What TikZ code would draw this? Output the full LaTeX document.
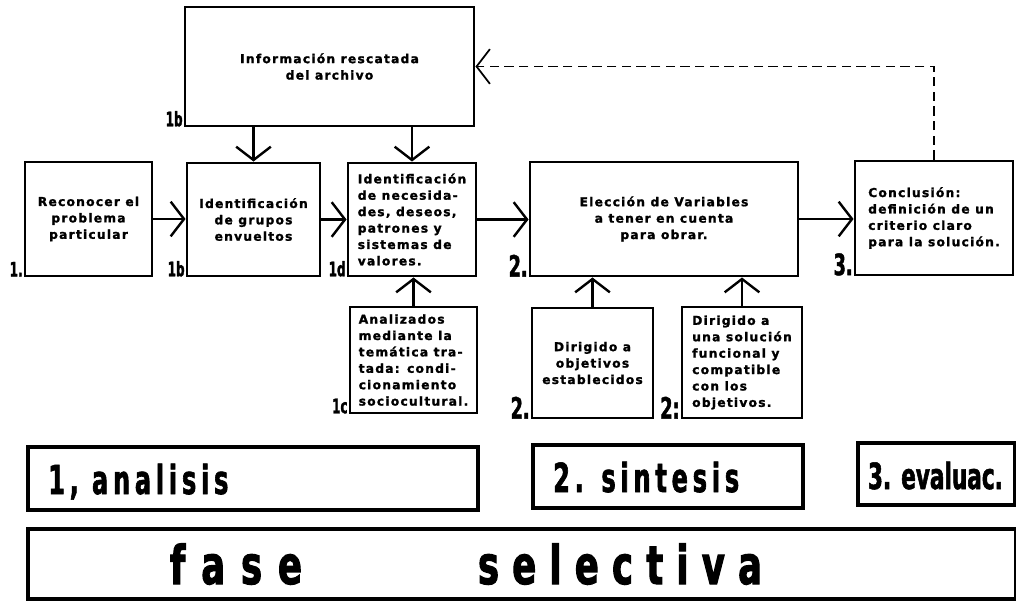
\documentclass[tikz,border=0pt]{standalone}
\usepackage{fontspec}
\setmainfont{DejaVu Sans}
\newfontfamily\boxfont[LetterSpace=10, FakeBold=1.5]{DejaVu Sans}
\newfontfamily\condfont[FakeStretch=0.6, FakeBold=1.5]{DejaVu Sans}
\newfontfamily\phasefont[FakeStretch=0.6, FakeBold=1.5, LetterSpace=12]{DejaVu Sans}
\newfontfamily\hugefont[FakeStretch=0.66, FakeBold=2]{DejaVu Sans}
\usetikzlibrary{arrows.meta}
\begin{document}
\begin{tikzpicture}[x=0.75pt,y=-0.75pt,
  box/.style={draw, line width=2.2pt, inner sep=0pt,
    font=\boxfont\bfseries\fontsize{9.2}{12.3}\selectfont},
  bigbox/.style={draw, line width=3pt, inner sep=0pt},
  conn/.style={line width=1.8pt, -{Straight Barb[length=10pt,width=26pt]}},
  lab/.style={font=\condfont\bfseries\fontsize{22}{22}\selectfont, inner sep=0.5pt},
  slab/.style={font=\condfont\bfseries\fontsize{15}{15}\selectfont, inner sep=0.5pt},
  phase/.style={font=\phasefont\bfseries\fontsize{30}{30}\selectfont, inner sep=0pt},
  huge/.style={font=\hugefont\bfseries\fontsize{40}{40}\selectfont, inner sep=0pt}]
\useasboundingbox (0,0) rectangle (1016,600);
% boxes
\node[box, minimum width={289*0.75pt}, minimum height={119*0.75pt}, align=center] (info) at (329.5,66.5) {Información rescatada\\del archivo};
\node[box, minimum width={127*0.75pt}, minimum height={114*0.75pt}, align=center] (reco) at (88.5,219) {Reconocer el\\problema\\particular};
\node[box, minimum width={133*0.75pt}, minimum height={113*0.75pt}, align=center] (grupos) at (253.5,219.5) {Identificación\\de grupos\\envueltos};
\node[box, minimum width={128*0.75pt}, minimum height={113*0.75pt}, align=left] (neces) at (412,219.5) {Identificación\\de necesida-\\des, deseos,\\patrones y\\sistemas de\\valores.};
\node[box, minimum width={268*0.75pt}, minimum height={114*0.75pt}, align=center] (elec) at (664,219) {Elección de Variables\\a tener en cuenta\\para obrar.};
\node[box, minimum width={158*0.75pt}, minimum height={114*0.75pt}, align=left] (concl) at (934,218) {Conclusión:\\definición de un\\criterio claro\\para la solución.};
\node[box, minimum width={127*0.75pt}, minimum height={106*0.75pt}, align=left] (anal) at (413.5,360) {Analizados\\mediante la\\temática tra-\\tada: condi-\\cionamiento\\sociocultural.};
\node[box, minimum width={121*0.75pt}, minimum height={110*0.75pt}, align=center] (dir1) at (592.5,363) {Dirigido a\\objetivos\\establecidos};
\node[box, minimum width={120*0.75pt}, minimum height={111*0.75pt}, align=left] (dir2) at (742,362.5) {Dirigido a\\una solución\\funcional y\\compatible\\con los\\objetivos.};
% phase boxes
\node[bigbox, minimum width={450*0.75pt}, minimum height={63*0.75pt}] (fa) at (253,478.5) {};
\node[bigbox, minimum width={270*0.75pt}, minimum height={63*0.75pt}] (fs) at (668,476.5) {};
\node[bigbox, minimum width={157*0.75pt}, minimum height={62*0.75pt}] (fe) at (936.5,474) {};
\node[bigbox, minimum width={988*0.75pt}, minimum height={70*0.75pt}] (fsel) at (522,563.5) {};
\node[phase, anchor=base west] (ta) at (48,494) {1, analisis};
\node[phase, anchor=base west] (ts) at (553,492) {2. sintesis};
\node[lab, anchor=base west, font=\condfont\bfseries\fontsize{27}{27}\selectfont] (te) at (867,489) {3. evaluac.};
\node[huge, anchor=base] (tf) at (236,584) {f\hspace{12pt}a\hspace{12pt}s\hspace{12pt}e};
\node[huge, anchor=base] (tsv) at (620,584) {s\hspace{10pt}e\hspace{10pt}l\hspace{10pt}e\hspace{10pt}c\hspace{10pt}t\hspace{10pt}i\hspace{10pt}v\hspace{10pt}a};
% labels
\node[slab, anchor=south east] (l1) at (reco.south west) {1.};
\node[slab, anchor=south east] (l2) at (grupos.south west) {1b};
\node[slab, anchor=south east] (l3) at (neces.south west) {1d};
\node[slab, anchor=south east] (l4) at (info.south west) {1b};
\node[slab, anchor=south east] (l5) at (anal.south west) {1c};
\node[lab, anchor=south east] (l6) at (elec.south west) {2.};
\node[lab, anchor=south east] (l7) at (concl.south west) {3.};
\node[lab, anchor=south east] (l8) at (dir1.south west) {2.};
\node[lab, anchor=south east] (l9) at (dir2.south west) {2:};
% connectors
\draw[conn] (reco.east) -- (grupos.west |- reco.east);
\draw[conn] (grupos.east) -- (neces.west |- grupos.east);
\draw[conn] (neces.east) -- (elec.west |- neces.east);
\draw[conn] (elec.east) -- (concl.west |- elec.east);
\draw[conn] (info.south -| grupos.north) -- (grupos.north);
\draw[conn] (info.south -| neces.north) -- (neces.north);
\draw[conn] (anal.north) -- (anal.north |- neces.south);
\draw[conn] (dir1.north) -- (dir1.north |- elec.south);
\draw[conn] (dir2.north) -- (dir2.north |- elec.south);
\draw[conn, line width=1.3pt, dash pattern=on 7pt off 4pt] (concl.north) |- (info.east);
\end{tikzpicture}
\end{document}
